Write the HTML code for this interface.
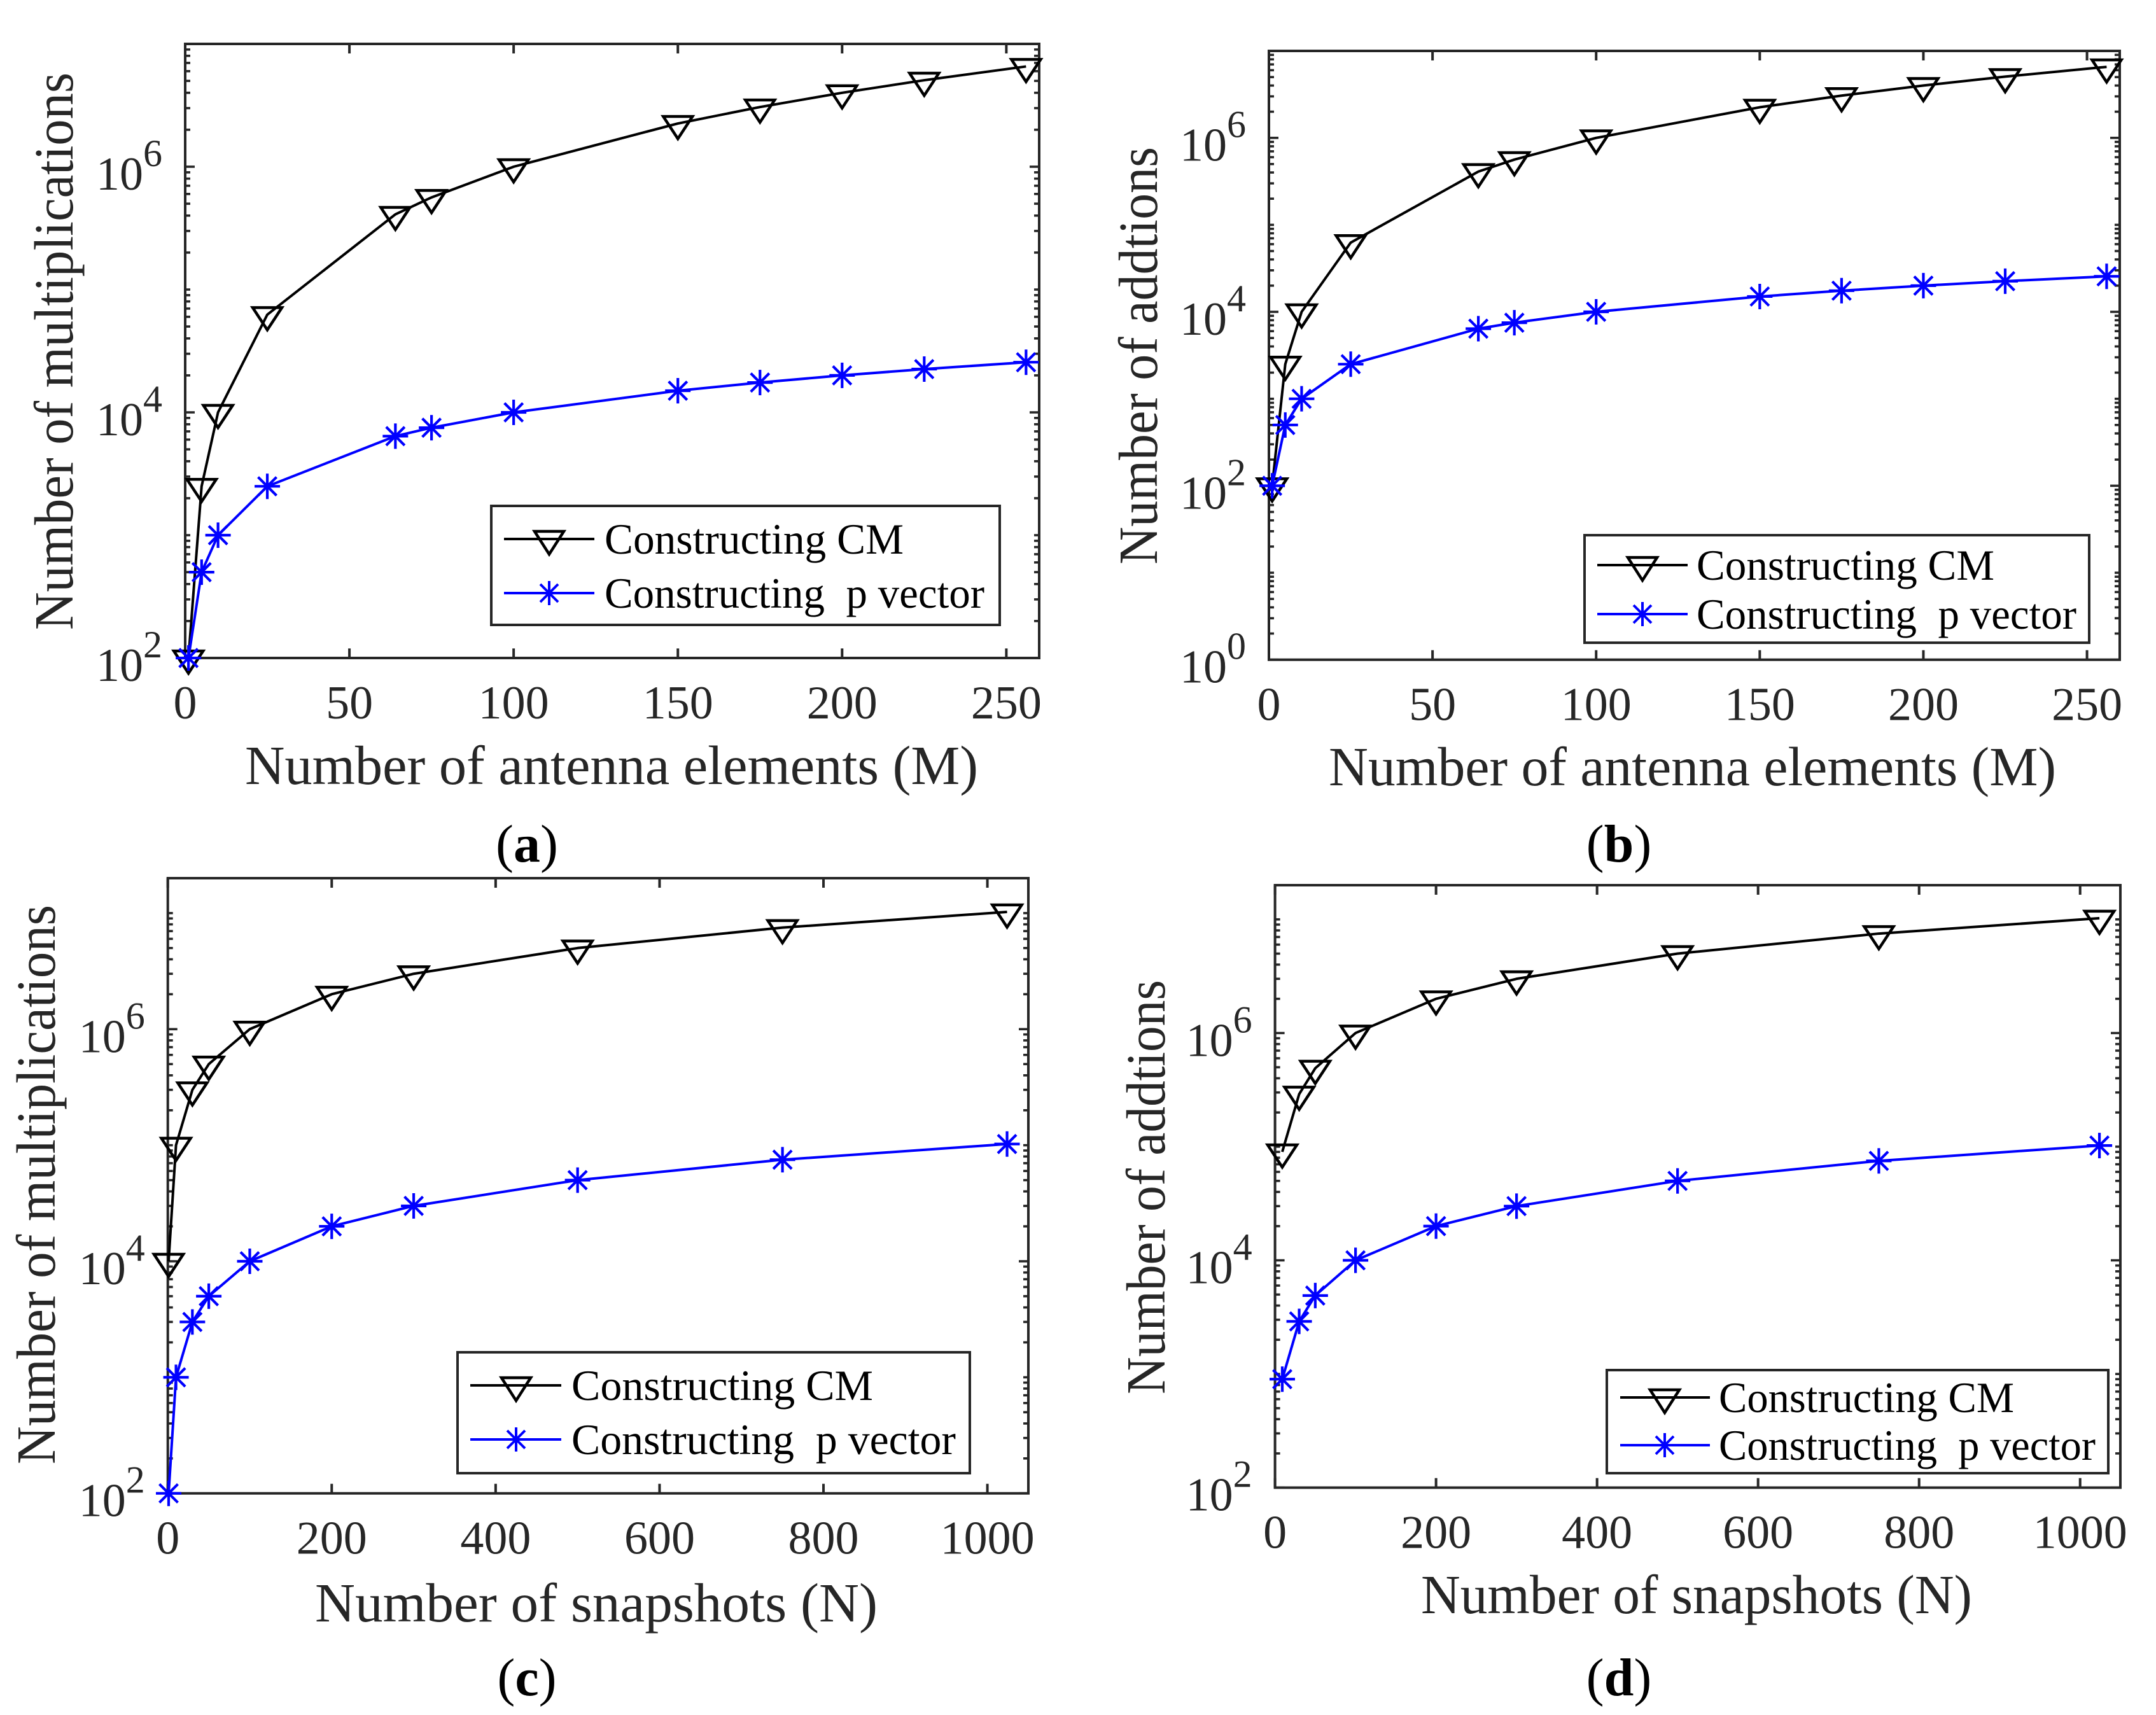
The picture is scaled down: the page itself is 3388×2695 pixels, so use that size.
<!DOCTYPE html>
<html lang="en">
<head>
<meta charset="utf-8">
<title>Computational complexity charts</title>
<style>
html,body{margin:0;padding:0;background:#fff;}
svg{display:block;}
text{font-family:"Liberation Serif",serif;white-space:pre;}
.tick{font-size:74px;fill:#262626;}
.title{font-size:87px;fill:#262626;}
.leg{font-size:68px;fill:#000;}
.cap{font-size:84px;fill:#000;}
</style>
</head>
<body>
<svg id="figure" xmlns="http://www.w3.org/2000/svg" width="3388" height="2695" viewBox="0 0 3388 2695">
  <rect x="0" y="0" width="3388" height="2695" fill="#fff"/>

  <g id="panel-a">
    <g class="plot"></g>
    <text class="title" x="385" y="1232" textLength="1152" lengthAdjust="spacingAndGlyphs">Number of antenna elements (M)</text>
    <text class="title" transform="translate(114 990) rotate(-90)" textLength="876" lengthAdjust="spacingAndGlyphs">Number of multiplications</text>
    <g>
      <rect x="772" y="795" width="799" height="187" fill="#fff" stroke="#262626" stroke-width="4"/>
      <line x1="792" y1="847" x2="934" y2="847" stroke="#000" stroke-width="4"/>
      <path d="M840 835H886L863 871Z" fill="none" stroke="#000" stroke-width="4.5"/>
      <text class="leg" x="950" y="870" textLength="470" lengthAdjust="spacingAndGlyphs">Constructing CM</text>
      <line x1="792" y1="932" x2="934" y2="932" stroke="#00f" stroke-width="4"/>
      <path d="M844 932H882M863 913V951M849 918L877 946M877 918L849 946" fill="none" stroke="#00f" stroke-width="4"/>
      <text class="leg" x="950" y="955" textLength="597" lengthAdjust="spacingAndGlyphs">Constructing  p vector</text>
    </g>
    <text class="cap" x="828" y="1354" text-anchor="middle">(<tspan font-weight="bold">a</tspan>)</text>
  </g>

  <g id="panel-b">
    <g class="plot"></g>
    <text class="title" x="2088" y="1234" textLength="1143" lengthAdjust="spacingAndGlyphs">Number of antenna elements (M)</text>
    <text class="title" transform="translate(1818 887) rotate(-90)" textLength="656" lengthAdjust="spacingAndGlyphs">Number of addtions</text>
    <g>
      <rect x="2490" y="841" width="793" height="169" fill="#fff" stroke="#262626" stroke-width="4"/>
      <line x1="2510" y1="888" x2="2652" y2="888" stroke="#000" stroke-width="4"/>
      <path d="M2558 876H2604L2581 912Z" fill="none" stroke="#000" stroke-width="4.5"/>
      <text class="leg" x="2666" y="911" textLength="468" lengthAdjust="spacingAndGlyphs">Constructing CM</text>
      <line x1="2510" y1="965" x2="2652" y2="965" stroke="#00f" stroke-width="4"/>
      <path d="M2562 965H2600M2581 946V984M2567 951L2595 979M2595 951L2567 979" fill="none" stroke="#00f" stroke-width="4"/>
      <text class="leg" x="2666" y="988" textLength="597" lengthAdjust="spacingAndGlyphs">Constructing  p vector</text>
    </g>
    <text class="cap" x="2544" y="1354" text-anchor="middle">(<tspan font-weight="bold">b</tspan>)</text>
  </g>

  <g id="panel-c">
    <g class="plot"></g>
    <text class="title" x="495" y="2548" textLength="884" lengthAdjust="spacingAndGlyphs">Number of snapshots (N)</text>
    <text class="title" transform="translate(86 2301) rotate(-90)" textLength="879" lengthAdjust="spacingAndGlyphs">Number of multiplications</text>
    <g>
      <rect x="719" y="2125" width="805" height="190" fill="#fff" stroke="#262626" stroke-width="4"/>
      <line x1="739" y1="2177" x2="882" y2="2177" stroke="#000" stroke-width="4"/>
      <path d="M788 2165H834L811 2201Z" fill="none" stroke="#000" stroke-width="4.5"/>
      <text class="leg" x="898" y="2200" textLength="474" lengthAdjust="spacingAndGlyphs">Constructing CM</text>
      <line x1="739" y1="2262" x2="882" y2="2262" stroke="#00f" stroke-width="4"/>
      <path d="M792 2262H830M811 2243V2281M797 2248L825 2276M825 2248L797 2276" fill="none" stroke="#00f" stroke-width="4"/>
      <text class="leg" x="898" y="2285" textLength="604" lengthAdjust="spacingAndGlyphs">Constructing  p vector</text>
    </g>
    <text class="cap" x="828" y="2664" text-anchor="middle">(<tspan font-weight="bold">c</tspan>)</text>
  </g>

  <g id="panel-d">
    <g class="plot"></g>
    <text class="title" x="2233" y="2535" textLength="866" lengthAdjust="spacingAndGlyphs">Number of snapshots (N)</text>
    <text class="title" transform="translate(1830 2191) rotate(-90)" textLength="651" lengthAdjust="spacingAndGlyphs">Number of addtions</text>
    <g>
      <rect x="2525" y="2153" width="788" height="162" fill="#fff" stroke="#262626" stroke-width="4"/>
      <line x1="2546" y1="2196" x2="2687" y2="2196" stroke="#000" stroke-width="4"/>
      <path d="M2593 2184H2639L2616 2220Z" fill="none" stroke="#000" stroke-width="4.5"/>
      <text class="leg" x="2701" y="2219" textLength="464" lengthAdjust="spacingAndGlyphs">Constructing CM</text>
      <line x1="2546" y1="2271" x2="2687" y2="2271" stroke="#00f" stroke-width="4"/>
      <path d="M2597 2271H2635M2616 2252V2290M2602 2257L2630 2285M2630 2257L2602 2285" fill="none" stroke="#00f" stroke-width="4"/>
      <text class="leg" x="2701" y="2294" textLength="592" lengthAdjust="spacingAndGlyphs">Constructing  p vector</text>
    </g>
    <text class="cap" x="2544" y="2664" text-anchor="middle">(<tspan font-weight="bold">d</tspan>)</text>
  </g>
</svg>

<script>
// ---- Data ----
var antennaCounts = [1, 5, 10, 25, 64, 75, 100, 150, 175, 200, 225, 256];
var multCmByAntenna = [100, 2500, 10000, 62500, 409600, 562500, 1000000, 2250000, 3062500, 4000000, 5062500, 6553600];
var multPByAntenna = [100, 500, 1000, 2500, 6400, 7500, 10000, 15000, 17500, 20000, 22500, 25600];
var addCmByAntenna = [100, 2500, 10000, 62500, 409600, 562500, 1000000, 2250000, 3062500, 4000000, 5062500, 6553600];
var addPByAntenna = [100, 500, 1000, 2500, 6400, 7500, 10000, 15000, 17500, 20000, 22500, 25600];

var snapshotCountsC = [1, 10, 30, 50, 100, 200, 300, 500, 750, 1024];
var multCmBySnapshot = [10000, 100000, 300000, 500000, 1000000, 2000000, 3000000, 5000000, 7500000, 10240000];
var multPBySnapshot = [100, 1000, 3000, 5000, 10000, 20000, 30000, 50000, 75000, 102400];

var snapshotCountsD = [9, 30, 50, 100, 200, 300, 500, 750, 1024];
var addCmBySnapshot = [90000, 290000, 490000, 1000000, 2000000, 3000000, 5000000, 7500000, 10240000];
var addPBySnapshot = [900, 2900, 4900, 10000, 20000, 30000, 50000, 75000, 102400];

var antennaTicks = [0, 50, 100, 150, 200, 250];
var snapshotTicks = [0, 200, 400, 600, 800, 1000];
var yExponentsFromTwo = [2, 4, 6];
var yExponentsFromZero = [0, 2, 4, 6];

var SVG_NS = 'http://www.w3.org/2000/svg';
var AXIS_COLOR = '#262626';

function shape(tag, parent, attrs) {
  var el = document.createElementNS(SVG_NS, tag);
  for (var k in attrs) { el.setAttribute(k, attrs[k]); }
  parent.appendChild(el);
  return el;
}

function drawFrame(g, box) {
  var el = shape('rect', g, {x: box.left, y: box.top, width: box.right - box.left, height: box.bottom - box.top, fill: 'none', stroke: AXIS_COLOR, 'stroke-width': 4});
  
  
}

function drawXAxis(g, box, xs, ticks) {
  ticks.forEach(function (t) {
    var x = xs(t);
    var a = shape('line', g, {x1: x, x2: x, y1: box.bottom, y2: box.bottom - 15, stroke: AXIS_COLOR, 'stroke-width': 4});
    
    
    var b = shape('line', g, {x1: x, x2: x, y1: box.top, y2: box.top + 15, stroke: AXIS_COLOR, 'stroke-width': 4});
    
    
    var label = shape('text', g, {x: x, y: box.bottom + 95, 'text-anchor': 'middle', 'class': 'tick'});
    
    
    label.textContent = String(t);
  });
}

function drawYAxis(g, box, ys, majors, minExp, maxExp) {
  for (var e = minExp; e < maxExp; e++) {
    for (var m = 1; m <= 9; m++) {
      var v = m * Math.pow(10, e);
      var y = ys(v);
      var isMajor = m === 1 && majors.indexOf(e) >= 0;
      var len = isMajor ? 15 : 8;
      var l = shape('line', g, {x1: box.left, x2: box.left + len, y1: y, y2: y, stroke: AXIS_COLOR, 'stroke-width': 3.6});
      
      
      var r = shape('line', g, {x1: box.right, x2: box.right - len, y1: y, y2: y, stroke: AXIS_COLOR, 'stroke-width': 3.6});
      
      
    }
  }
  var top = ys(Math.pow(10, maxExp));
  if (top > box.top + 2) {
    var tl = shape('line', g, {x1: box.left, x2: box.left + 8, y1: top, y2: top, stroke: AXIS_COLOR, 'stroke-width': 3.6});
    
    
    var tr = shape('line', g, {x1: box.right, x2: box.right - 8, y1: top, y2: top, stroke: AXIS_COLOR, 'stroke-width': 3.6});
    
    
  }
  majors.forEach(function (ex) {
    var yy = ys(Math.pow(10, ex));
    var label = shape('text', g, {x: box.left - 140, y: yy + 36, 'class': 'tick'});
    
    
    label.textContent = '10';
    var sup = shape('tspan', label, {dy: -37, 'font-size': 60});
    sup.textContent = String(ex);
  });
}

function drawLine(g, xVals, yVals, xs, ys, color, name) {
  var pts = xVals.map(function (x, i) { return xs(x).toFixed(2) + ',' + ys(yVals[i]).toFixed(2); }).join(' ');
  var el = shape('polyline', g, {points: pts, fill: 'none', stroke: color, 'stroke-width': 4, 'stroke-linejoin': 'round'});
  
  
}

function drawTriangles(g, xVals, yVals, xs, ys) {
  xVals.forEach(function (x, i) {
    var px = xs(x), py = ys(yVals[i]);
    var d = 'M' + (px - 23) + ' ' + (py - 11) + 'H' + (px + 23) + 'L' + px + ' ' + (py + 24) + 'Z';
    var el = shape('path', g, {d: d, fill: 'none', stroke: '#000', 'stroke-width': 4.5});
    
    
  });
}

function drawAsterisks(g, xVals, yVals, xs, ys) {
  xVals.forEach(function (x, i) {
    var px = xs(x), py = ys(yVals[i]);
    var d = 'M' + (px - 20) + ' ' + py + 'H' + (px + 20) +
            'M' + px + ' ' + (py - 20) + 'V' + (py + 20) +
            'M' + (px - 14.5) + ' ' + (py - 14.5) + 'L' + (px + 14.5) + ' ' + (py + 14.5) +
            'M' + (px + 14.5) + ' ' + (py - 14.5) + 'L' + (px - 14.5) + ' ' + (py + 14.5);
    var el = shape('path', g, {d: d, fill: 'none', stroke: '#00f', 'stroke-width': 4.2});
    
    
  });
}

function drawPanel(id, box, xMax, logMin, logMax, maxExp, xTicks, yMajors, xVals, cmVals, pVals) {
  var g = document.querySelector('#' + id + ' .plot');
  var xs = function (v) { return box.left + (v / xMax) * (box.right - box.left); };
  var ys = function (v) { return box.bottom - ((Math.log10(v) - logMin) / (logMax - logMin)) * (box.bottom - box.top); };
  drawFrame(g, box);
  drawXAxis(g, box, xs, xTicks);
  drawYAxis(g, box, ys, yMajors, logMin, maxExp);
  drawLine(g, xVals, cmVals, xs, ys, '#000', 'cm-line');
  drawTriangles(g, xVals, cmVals, xs, ys);
  drawLine(g, xVals, pVals, xs, ys, '#00f', 'p-vector-line');
  drawAsterisks(g, xVals, pVals, xs, ys);
}

drawPanel('panel-a', {left: 291, right: 1633, top: 69, bottom: 1034}, 260, 2, 7, 7, antennaTicks, yExponentsFromTwo, antennaCounts, multCmByAntenna, multPByAntenna);
drawPanel('panel-b', {left: 1994, right: 3331, top: 80, bottom: 1036.7}, 260, 0, 7, 7, antennaTicks, yExponentsFromZero, antennaCounts, addCmByAntenna, addPByAntenna);
drawPanel('panel-c', {left: 263.7, right: 1616, top: 1380, bottom: 2346.7}, 1050, 2, 7.301, 7, snapshotTicks, yExponentsFromTwo, snapshotCountsC, multCmBySnapshot, multPBySnapshot);
drawPanel('panel-d', {left: 2003.6, right: 3332, top: 1391, bottom: 2337.7}, 1050, 2, 7.301, 7, snapshotTicks, yExponentsFromTwo, snapshotCountsD, addCmBySnapshot, addPBySnapshot);
</script>
</body>
</html>
